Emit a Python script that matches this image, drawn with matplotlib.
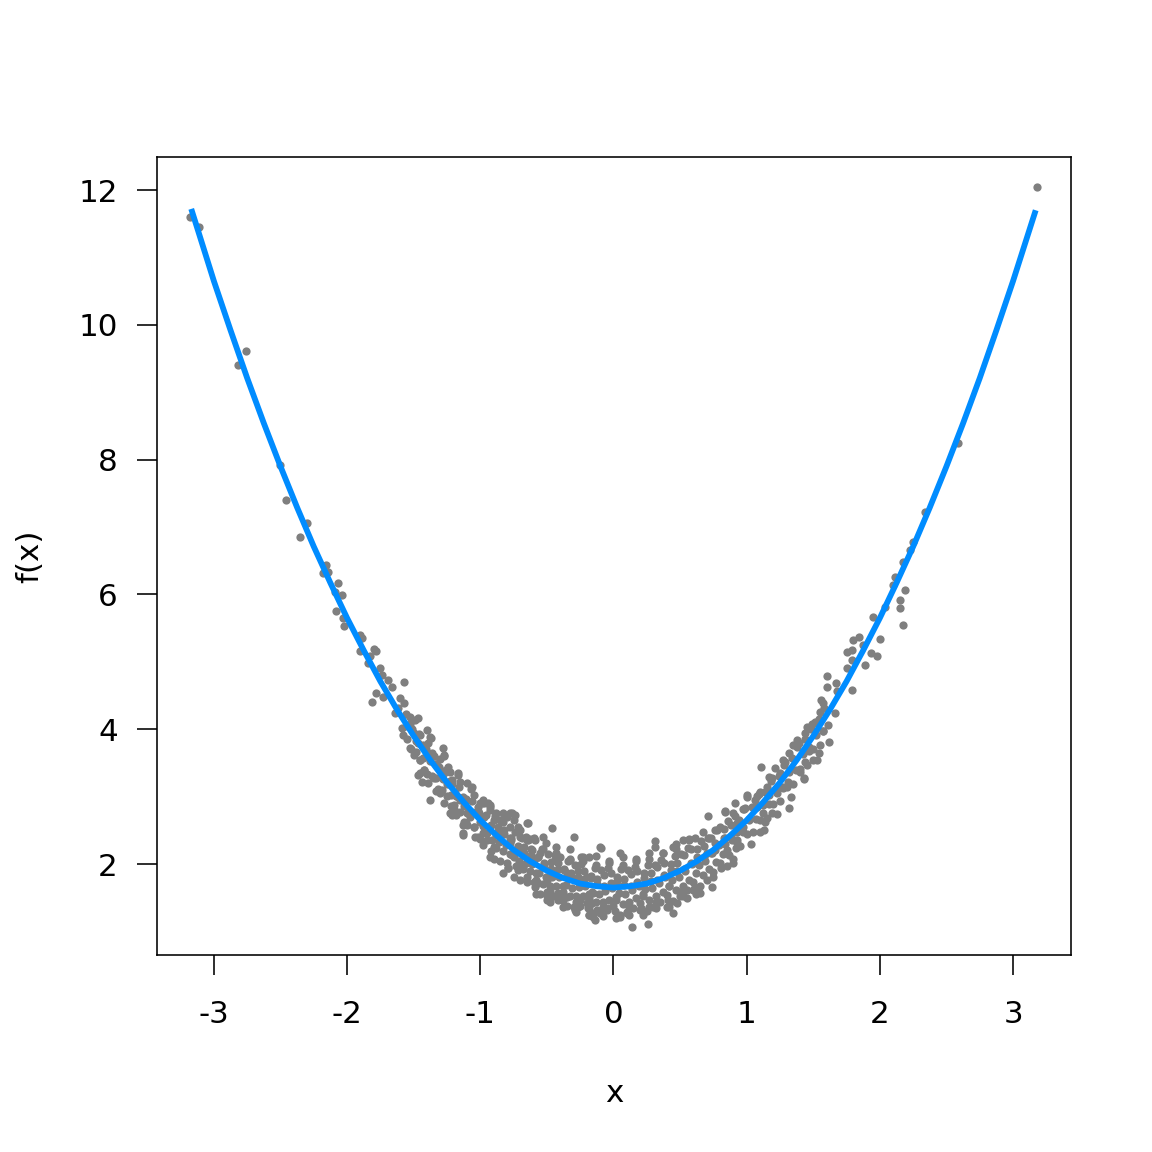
import matplotlib
matplotlib.use("Agg")
import matplotlib.pyplot as plt

plt.rcParams['font.family'] = ['DejaVu Sans']
plt.rcParams['axes.unicode_minus'] = False

# ---- data ----
curve_x = [-3.17, -3.0, -2.875, -2.75, -2.625, -2.5, -2.375, -2.25, -2.125, -2.0, -1.875, -1.75,
           -1.625, -1.5, -1.375, -1.25, -1.125, -1.0, -0.875, -0.75, -0.625, -0.5, -0.375, -0.25,
           -0.125, 0.0, 0.125, 0.25, 0.375, 0.5, 0.625, 0.75, 0.875, 1.0, 1.125, 1.25, 1.375, 1.5,
           1.625, 1.75, 1.875, 2.0, 2.125, 2.25, 2.375, 2.5, 2.625, 2.75, 2.875, 3.0, 3.17]
curve_y = [11.72, 10.65, 9.92, 9.21, 8.54, 7.90, 7.29, 6.71, 6.17, 5.65, 5.17, 4.71,
           4.29, 3.90, 3.54, 3.21, 2.92, 2.65, 2.42, 2.21, 2.04, 1.90, 1.79, 1.71,
           1.67, 1.65, 1.67, 1.71, 1.79, 1.90, 2.04, 2.21, 2.42, 2.65, 2.92, 3.21, 3.54, 3.90,
           4.29, 4.71, 5.17, 5.65, 6.17, 6.71, 7.29, 7.90, 8.54, 9.21, 9.92, 10.65, 11.70]

left_points = [
    (-3.18, 11.60), (-3.11, 11.45), (-2.76, 9.61), (-2.82, 9.40), (-2.50, 7.92), (-2.46, 7.40),
    (-2.30, 7.06), (-2.35, 6.85), (-2.16, 6.44), (-2.18, 6.32), (-2.14, 6.33), (-2.07, 6.17),
    (-2.09, 6.04), (-2.04, 5.99), (-2.08, 5.75), (-2.03, 5.65), (-2.02, 5.53), (-1.90, 5.40),
    (-1.90, 5.16), (-1.80, 5.19), (-1.78, 5.16), (-1.84, 4.98), (-1.75, 4.91), (-1.89, 5.35),
    (-1.83, 5.08), (-1.74, 4.80), (-1.69, 4.73), (-1.57, 4.70), (-1.66, 4.63), (-1.78, 4.54),
    (-1.73, 4.48), (-1.81, 4.40), (-1.60, 4.46), (-1.57, 4.39), (-1.64, 4.24), (-1.53, 4.18),
    (-1.49, 4.14), (-1.59, 4.02), (-1.58, 3.91), (-1.40, 3.99), (-1.38, 3.88), (-1.45, 3.91),
    (-1.39, 3.80), (-1.53, 3.72), (-1.48, 3.66), (-1.28, 3.72), (-1.27, 3.62), (-1.45, 3.54),
    (-1.43, 3.57), (-1.30, 3.56), (-1.24, 3.44), (-1.42, 3.39), (-1.45, 3.35), (-1.30, 3.39),
    (-1.17, 3.32), (-1.44, 3.22), (-1.39, 3.20), (-1.21, 3.25), (-1.15, 3.22), (-1.10, 3.20),
    (-1.29, 3.10), (-1.06, 3.14), (-1.19, 3.05), (-1.38, 2.95), (-1.05, 3.02), (-1.15, 2.95),
    (-1.00, 2.91), (-0.94, 2.91), (-1.23, 2.76), (-1.18, 2.73), (-1.10, 2.76), (-0.93, 2.80),
    (-0.88, 2.76), (-0.78, 2.76), (-1.11, 2.61), (-1.05, 2.55), (-1.00, 2.62), (-0.90, 2.65),
    (-0.83, 2.62), (-0.75, 2.65), (-0.64, 2.61), (-1.13, 2.46), (-1.04, 2.40), (-0.95, 2.46),
    (-0.88, 2.43), (-0.70, 2.50), (-0.66, 2.40), (-0.60, 2.39), (-0.98, 2.28), (-0.78, 2.31),
    (-1.62, 4.32), (-1.55, 4.05), (-1.50, 3.95), (-1.47, 3.80), (-1.42, 3.72), (-1.35, 3.60),
    (-1.33, 3.48), (-1.36, 3.30), (-1.27, 3.35), (-1.25, 3.18), (-1.22, 3.02), (-1.33, 3.08),
    (-1.20, 2.88), (-1.12, 2.86), (-1.08, 2.70), (-1.02, 2.78), (-0.97, 2.70), (-1.27, 2.90),
    (-1.47, 3.32), (-1.33, 3.28), (-1.23, 3.36), (-1.17, 2.99), (-1.11, 2.95), (-1.21, 2.73),
    (-1.13, 2.58), (-1.13, 2.43), (-1.02, 2.85), (-0.99, 2.91), (-0.93, 2.85), (-0.98, 2.46),
    (-0.90, 2.25), (-0.93, 2.10), (-0.85, 2.65), (-0.80, 2.70), (-0.78, 2.55), (-0.74, 2.73),
    (-0.72, 2.55), (-0.65, 2.61), (-0.85, 2.36), (-0.78, 2.39), (-0.70, 2.40), (-0.65, 2.36),
    (-0.59, 2.36), (-0.51, 2.31), (-0.46, 2.53), (-0.83, 1.87), (-0.79, 1.94), (-0.72, 1.91),
    (-0.75, 2.10), (-0.68, 2.18), (-0.61, 2.21), (-0.55, 2.16), (-0.65, 1.81), (-0.57, 1.72),
    (-0.50, 1.76), (-0.50, 1.58), (-0.50, 1.47), (-0.42, 1.47), (-0.44, 2.06), (-0.40, 2.10),
    (-0.33, 2.06), (-0.30, 2.40), (-0.24, 2.10), (-0.18, 2.10), (-0.35, 1.87), (-0.27, 1.81),
    (-0.20, 1.81), (-0.35, 1.51), (-0.30, 1.36), (-0.25, 1.47), (-0.16, 1.42), (-0.15, 1.21),
    (-0.12, 1.32), (-0.10, 2.25), (-0.98, 2.95), (-0.93, 2.88), (-0.83, 2.76), (-0.76, 2.76),
    (-0.68, 1.96), (-0.60, 2.06), (-0.49, 1.50), (-0.29, 1.32), (-0.14, 1.17), (-0.18, 1.24),
    (-0.09, 2.24), (-0.05, 1.35), (-0.18, 1.36), (-0.27, 1.36), (-0.38, 1.47), (-0.42, 1.57),
    (-0.15, 1.57),
]

center_points = [
    (0.14, 1.07), (0.26, 1.11), (0.45, 1.27), (0.05, 2.16), (0.31, 2.34), (0.31, 2.25),
    (0.45, 2.25), (0.52, 2.36), (0.61, 2.39), (0.90, 2.01), (0.75, 1.81), (0.74, 1.66),
    (0.65, 1.57), (0.60, 1.61), (0.55, 1.50), (0.48, 1.42), (0.40, 1.36), (0.27, 1.36),
    (0.20, 1.32), (0.10, 1.29), (0.05, 1.21),
]

core_points = [
    (-0.90, 2.08), (-0.88, 2.24), (-0.91, 2.36), (-0.87, 2.48), (-0.92, 2.58), (-0.89, 2.71),
    (-0.85, 2.04), (-0.83, 2.19), (-0.86, 2.32), (-0.82, 2.44), (-0.87, 2.55), (-0.84, 2.66),
    (-0.80, 2.02), (-0.78, 2.15), (-0.81, 2.28), (-0.77, 2.39), (-0.82, 2.50), (-0.79, 1.94),
    (-0.75, 1.81), (-0.73, 1.97), (-0.76, 2.13), (-0.72, 2.25), (-0.77, 2.36), (-0.74, 2.48),
    (-0.70, 1.76), (-0.68, 1.92), (-0.71, 2.04), (-0.67, 2.16), (-0.72, 2.26), (-0.69, 2.39),
    (-0.65, 1.74), (-0.63, 1.89), (-0.66, 2.02), (-0.62, 2.14), (-0.67, 2.25), (-0.64, 2.36),
    (-0.60, 1.74), (-0.58, 1.87), (-0.61, 2.00), (-0.57, 2.11), (-0.62, 2.22), (-0.59, 1.66), (-0.63, 2.37), (-0.58, 1.56),
    (-0.55, 1.55), (-0.53, 1.71), (-0.56, 1.87), (-0.52, 1.99), (-0.57, 2.10), (-0.54, 2.22), (-0.58, 1.77), (-0.53, 2.40),
    (-0.50, 1.52), (-0.48, 1.68), (-0.51, 1.80), (-0.47, 1.92), (-0.52, 2.02), (-0.49, 2.15), (-0.53, 2.23), (-0.48, 1.60),
    (-0.45, 1.52), (-0.43, 1.67), (-0.46, 1.80), (-0.42, 1.92), (-0.47, 2.03), (-0.44, 2.14), (-0.48, 1.43), (-0.43, 2.25),
    (-0.40, 1.54), (-0.38, 1.67), (-0.41, 1.80), (-0.37, 1.91), (-0.42, 2.02), (-0.39, 1.46), (-0.43, 2.17), (-0.38, 1.36),
    (-0.35, 1.37), (-0.33, 1.53), (-0.36, 1.69), (-0.32, 1.81), (-0.37, 1.92), (-0.34, 2.04), (-0.38, 1.59), (-0.33, 2.22),
    (-0.30, 1.36), (-0.28, 1.52), (-0.31, 1.64), (-0.27, 1.76), (-0.32, 1.86), (-0.29, 1.99), (-0.33, 2.07), (-0.28, 1.44),
    (-0.25, 1.38), (-0.23, 1.53), (-0.26, 1.66), (-0.22, 1.78), (-0.27, 1.89), (-0.24, 2.00), (-0.28, 1.29), (-0.23, 2.11),
    (-0.20, 1.42), (-0.18, 1.55), (-0.21, 1.68), (-0.17, 1.79), (-0.22, 1.90), (-0.19, 1.34), (-0.23, 2.05), (-0.18, 1.24),
    (-0.15, 1.27), (-0.13, 1.43), (-0.16, 1.59), (-0.12, 1.71), (-0.17, 1.82), (-0.14, 1.94), (-0.18, 1.49), (-0.13, 2.12),
    (-0.10, 1.28), (-0.08, 1.44), (-0.11, 1.56), (-0.07, 1.68), (-0.12, 1.78), (-0.09, 1.91), (-0.13, 1.99), (-0.08, 1.36),
    (-0.05, 1.32), (-0.03, 1.47), (-0.06, 1.60), (-0.02, 1.72), (-0.07, 1.83), (-0.04, 1.94), (-0.08, 1.23), (-0.03, 2.05),
    (0.00, 1.38), (0.02, 1.51), (-0.01, 1.64), (0.03, 1.75), (-0.02, 1.86), (0.01, 1.30), (-0.03, 2.01), (0.02, 1.20),
    (0.05, 1.25), (0.07, 1.41), (0.04, 1.57), (0.08, 1.69), (0.03, 1.80), (0.06, 1.92), (0.02, 1.47), (0.07, 2.10),
    (0.10, 1.28), (0.12, 1.44), (0.09, 1.56), (0.13, 1.68), (0.08, 1.78), (0.11, 1.91), (0.07, 1.99), (0.12, 1.36),
    (0.15, 1.34), (0.17, 1.49), (0.14, 1.62), (0.18, 1.74), (0.13, 1.85), (0.16, 1.96), (0.12, 1.25), (0.17, 2.07),
    (0.20, 1.42), (0.22, 1.55), (0.19, 1.68), (0.23, 1.79), (0.18, 1.90), (0.21, 1.34), (0.17, 2.05), (0.22, 1.24),
    (0.25, 1.31), (0.27, 1.47), (0.24, 1.63), (0.28, 1.75), (0.23, 1.86), (0.26, 1.98), (0.22, 1.53), (0.27, 2.16),
    (0.30, 1.36), (0.32, 1.52), (0.29, 1.64), (0.33, 1.76), (0.28, 1.86), (0.31, 1.99), (0.27, 2.07), (0.32, 1.44),
    (0.35, 1.44), (0.37, 1.59), (0.34, 1.72), (0.38, 1.84), (0.33, 1.95), (0.36, 2.06), (0.32, 1.35), (0.37, 2.17),
    (0.40, 1.54), (0.42, 1.67), (0.39, 1.80), (0.43, 1.91), (0.38, 2.02), (0.41, 1.46), (0.37, 2.17), (0.42, 1.36),
    (0.45, 1.45), (0.47, 1.61), (0.44, 1.77), (0.48, 1.89), (0.43, 2.00), (0.46, 2.12), (0.42, 1.67), (0.47, 2.30),
    (0.50, 1.52), (0.52, 1.68), (0.49, 1.80), (0.53, 1.92), (0.48, 2.02), (0.51, 2.15), (0.47, 2.23), (0.52, 1.60),
    (0.55, 1.62), (0.57, 1.77), (0.54, 1.90), (0.58, 2.02), (0.53, 2.13), (0.56, 2.24), (0.52, 1.53), (0.57, 2.35),
    (0.60, 1.74), (0.62, 1.87), (0.59, 2.00), (0.63, 2.11), (0.58, 2.22), (0.61, 1.66), (0.57, 2.37), (0.62, 1.56),
    (0.65, 1.67), (0.67, 1.83), (0.64, 1.99), (0.68, 2.11), (0.63, 2.22), (0.66, 2.34),
    (0.70, 1.76), (0.72, 1.92), (0.69, 2.04), (0.73, 2.16), (0.68, 2.26), (0.71, 2.39),
    (0.75, 1.88), (0.77, 2.03), (0.74, 2.16), (0.78, 2.28), (0.73, 2.39), (0.76, 2.50),
    (0.80, 2.02), (0.82, 2.15), (0.79, 2.28), (0.83, 2.39), (0.78, 2.50), (0.81, 1.94),
    (0.85, 1.97), (0.87, 2.13), (0.84, 2.29), (0.88, 2.41), (0.83, 2.52), (0.86, 2.64),
    (0.90, 2.08), (0.92, 2.24), (0.89, 2.36), (0.93, 2.48), (0.88, 2.58), (0.91, 2.71),
]

shoulder_points = [
    (0.95, 2.27), (0.97, 2.47), (0.94, 2.65), (0.98, 2.81),
    (1.00, 2.45), (1.02, 2.67), (0.99, 2.83), (1.03, 2.30),
    (1.05, 2.47), (1.07, 2.67), (1.04, 2.85), (1.08, 3.01),
    (1.10, 2.66), (1.12, 2.88), (1.09, 3.04), (1.13, 2.51),
    (1.15, 2.69), (1.17, 2.89), (1.14, 3.07), (1.18, 3.23),
    (1.20, 2.89), (1.22, 3.11), (1.19, 3.27), (1.23, 2.74),
    (1.25, 2.93), (1.27, 3.13), (1.24, 3.31), (1.28, 3.47),
    (1.30, 3.14), (1.32, 3.36), (1.29, 3.52), (1.33, 2.99),
    (1.35, 3.19), (1.37, 3.39), (1.34, 3.57), (1.38, 3.73),
    (1.40, 3.41), (1.42, 3.63), (1.39, 3.79), (1.43, 3.26),
    (1.45, 3.47), (1.47, 3.67), (1.44, 3.85), (1.48, 4.01),
    (1.50, 3.70), (1.52, 3.92), (1.49, 4.08), (1.53, 3.55),
    (1.55, 3.77), (1.57, 3.97), (1.54, 4.15), (1.58, 4.31),
    (-0.95, 2.35), (-0.93, 2.57), (-0.96, 2.73), (-0.92, 2.20),
    (-1.00, 2.37), (-0.98, 2.57), (-1.01, 2.75), (-0.97, 2.91),
    (-1.05, 2.55), (-1.03, 2.77), (-1.06, 2.93), (-1.02, 2.40),
    (-1.10, 2.58), (-1.08, 2.78), (-1.11, 2.96), (-1.07, 3.12),
    (-1.15, 2.77), (-1.13, 2.99), (-1.16, 3.15), (-1.12, 2.62),
    (-1.20, 2.81), (-1.18, 3.01), (-1.21, 3.19), (-1.17, 3.35),
    (-1.25, 3.01), (-1.23, 3.23), (-1.26, 3.39), (-1.22, 2.86),
    (-1.30, 3.06), (-1.28, 3.26), (-1.31, 3.44), (-1.27, 3.60),
    (-1.35, 3.27), (-1.33, 3.49), (-1.36, 3.65), (-1.32, 3.12),
    (-1.40, 3.33), (-1.38, 3.53), (-1.41, 3.71), (-1.37, 3.87),
    (-1.45, 3.55), (-1.43, 3.77), (-1.46, 3.93), (-1.42, 3.40),
    (-1.50, 3.62), (-1.48, 3.82), (-1.51, 4.00), (-1.47, 4.16),
    (-1.55, 3.85), (-1.53, 4.07), (-1.56, 4.23), (-1.52, 3.70),
]

right_points = [
    (3.18, 12.04), (2.59, 8.25), (2.34, 7.22), (2.25, 6.78), (2.23, 6.66), (2.17, 6.48),
    (2.11, 6.26), (2.10, 6.14), (2.19, 6.07), (2.15, 5.92), (2.15, 5.80), (2.17, 5.55),
    (2.04, 5.81), (1.95, 5.66), (1.84, 5.37), (1.80, 5.32), (2.00, 5.34), (1.87, 5.25),
    (1.75, 5.15), (1.79, 5.18), (1.93, 5.13), (1.98, 5.09), (1.79, 5.03), (1.89, 4.95),
    (1.75, 4.91), (1.60, 4.79), (1.60, 4.63), (1.67, 4.69), (1.68, 4.57), (1.79, 4.58),
    (1.56, 4.43), (1.57, 4.39), (1.55, 4.26), (1.66, 4.24), (1.51, 4.11), (1.45, 4.03),
    (1.61, 4.06), (1.57, 3.98), (1.44, 3.94), (1.38, 3.84), (1.62, 3.81), (1.35, 3.77),
    (1.47, 3.74), (1.54, 3.65), (1.32, 3.65), (1.50, 3.54), (1.44, 3.51), (1.27, 3.54),
    (1.40, 3.37), (1.43, 3.28), (1.11, 3.44), (1.21, 3.42), (1.25, 3.35), (1.17, 3.29),
    (1.31, 3.22), (1.27, 3.14), (1.15, 3.14), (1.10, 3.07), (1.17, 3.03), (1.23, 3.06),
    (1.00, 2.99), (0.91, 2.91), (1.06, 2.95), (1.32, 2.83), (1.19, 2.76), (1.12, 2.76),
    (0.97, 2.81), (0.84, 2.79), (0.71, 2.71), (0.90, 2.76), (1.02, 2.65), (1.14, 2.62),
    (0.80, 2.55), (0.93, 2.61), (0.97, 2.55), (0.67, 2.47), (1.10, 2.47), (0.72, 2.39),
    (0.84, 2.39), (0.93, 2.36), (0.76, 2.31), (0.93, 2.31), (0.85, 2.21), (0.76, 2.21),
    (0.70, 2.16), (0.84, 2.77), (1.08, 2.85), (1.00, 3.02),
]

x_ticks = [-3, -2, -1, 0, 1, 2, 3]
y_ticks = [2, 4, 6, 8, 10, 12]

# ---- figure ----
W = 1152
fig = plt.figure(figsize=(8, 8), dpi=144)
ax = fig.add_axes([157 / W, 1 - 955 / W, (1071 - 157) / W, (955 - 157) / W])

all_points = left_points + center_points + core_points + shoulder_points + right_points
px = [p[0] for p in all_points]
py = [p[1] for p in all_points]

ax.scatter(px, py, s=17, color='#7f7f7f', linewidths=0, zorder=2)
ax.plot(curve_x, curve_y, color='#008cff', linewidth=2.9, solid_capstyle='butt', zorder=3)

ax.set_xlim(-3.427, 3.435)
ax.set_ylim(0.65, 12.49)
ax.set_xticks(x_ticks)
ax.set_yticks(y_ticks)
ax.set_xticklabels([str(v) for v in x_ticks])
ax.set_yticklabels([str(v) for v in y_ticks])

for s in ax.spines.values():
    s.set_linewidth(0.8)
    s.set_color('black')
ax.tick_params(axis='both', direction='out', length=10, width=0.8, labelsize=15.5, colors='black')
ax.tick_params(axis='x', pad=12.5)
ax.tick_params(axis='y', pad=9.5)

fig.text(614 / W, 1 - 1093 / W, 'x', ha='center', va='center', fontsize=15.5)
fig.text(30 / W, 1 - 556 / W, 'f(x)', ha='center', va='center', rotation=90, fontsize=15.5)

fig.savefig('out.png', dpi=144, facecolor='white')
